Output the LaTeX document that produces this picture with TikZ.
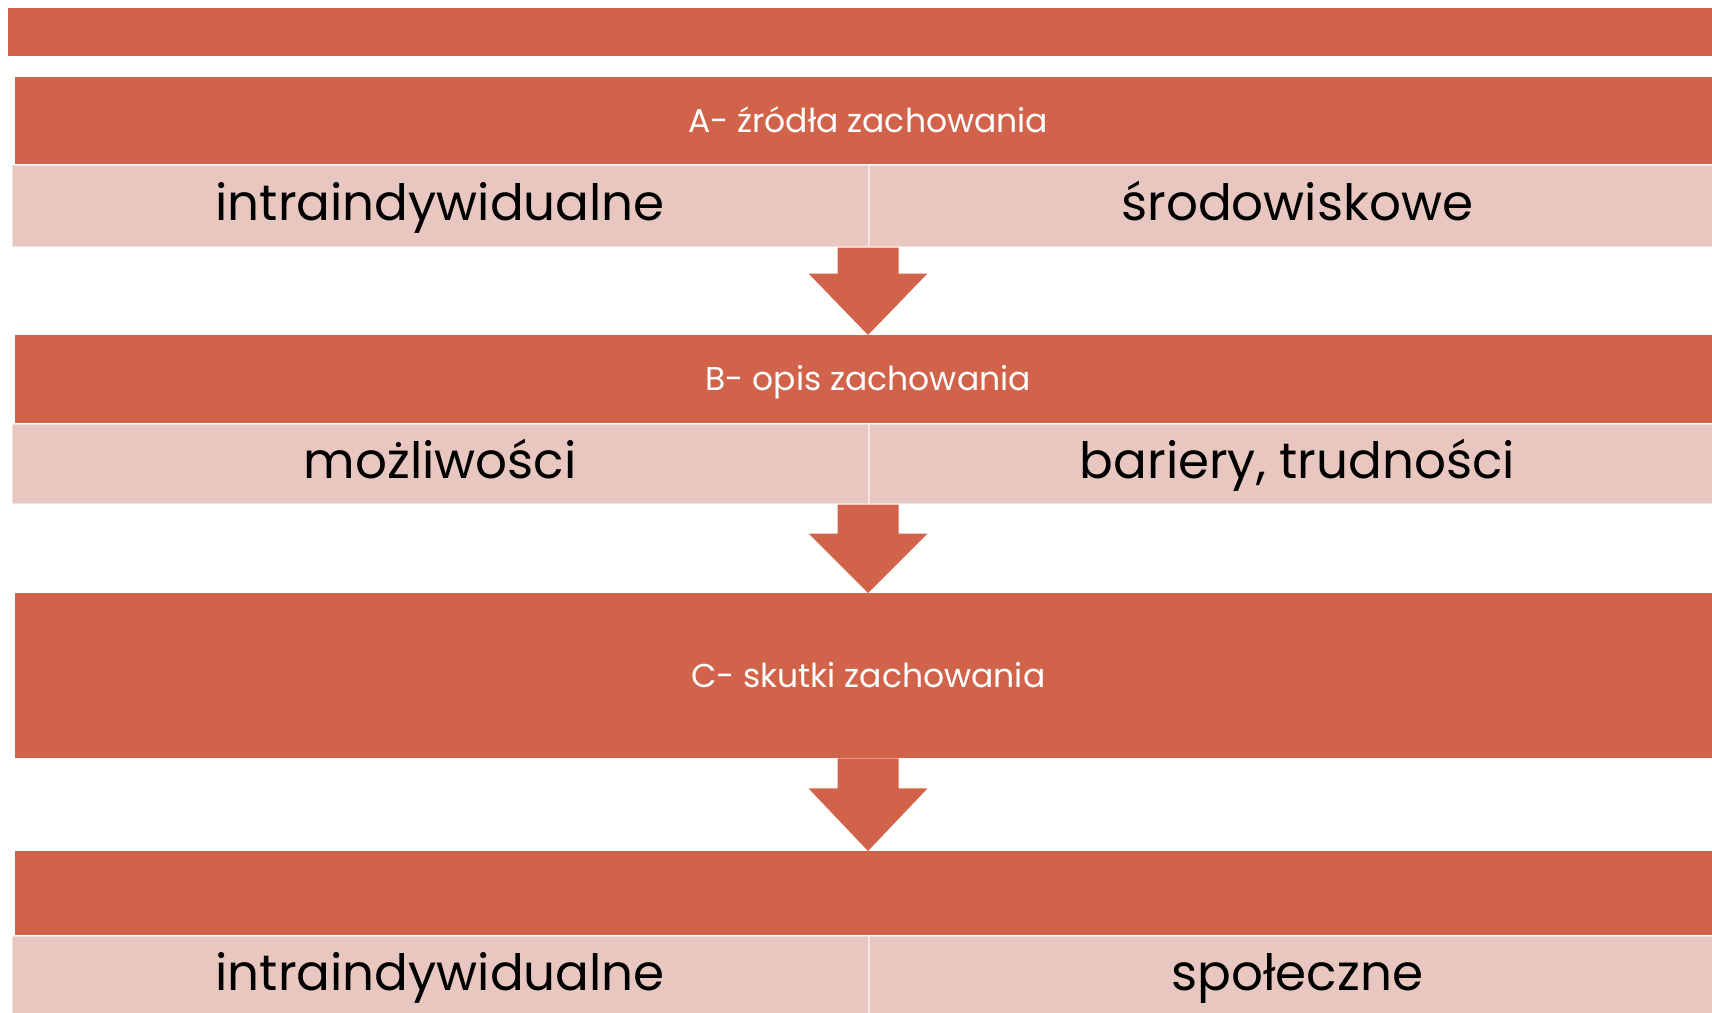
\documentclass[tikz,border=0pt]{standalone}
\usepackage{fontspec}
\setmainfont{Poppins}
\usetikzlibrary{calc}
\definecolor{accent}{HTML}{D1634A}
\definecolor{lightcell}{HTML}{E9C7C1}
\begin{document}
\begin{tikzpicture}[x=1pt,y=-1pt,
 bar/.style={fill=accent,draw=none,inner sep=0pt,anchor=north west},
 hdr/.style={bar,minimum width=1706pt,text=white,font=\fontsize{33}{40}\selectfont,text height=23pt,text depth=0pt},
 cell/.style={fill=lightcell,draw=white,draw opacity=0.45,line width=1.5pt,inner sep=0pt,minimum width=857pt,anchor=north west,font=\fontsize{50}{60}\selectfont,text height=29pt,text depth=0pt},
 flow/.style={fill=accent,draw=none}]
\useasboundingbox (0,0) rectangle (1712,1012);
\fill[white] (0,0) rectangle (1712,1012);
% top bar
\node[bar,minimum width=1710pt,minimum height=48pt] (topbar) at (8,8) {};
% A
\node[hdr,minimum height=87pt] (A) at (15,77) {A- źródła zachowania};
\node[cell,minimum height=82pt] (A1) at (11,164) {intraindywidualne};
\node[cell,minimum height=82pt] (A2) at (868,164) {środowiskowe};
% B
\node[hdr,minimum height=88pt] (B) at (15,335) {B- opis zachowania};
\node[cell,minimum height=80pt] (B1) at (11,423) {możliwości};
\node[cell,minimum height=80pt] (B2) at (868,423) {bariery, trudności};
% C
\node[hdr,minimum height=165pt] (C) at (15,593) {C- skutki zachowania};
% D
\node[hdr,minimum height=84pt] (D) at (15,851) {};
\node[cell,minimum height=80pt] (D1) at (11,935) {intraindywidualne};
\node[cell,minimum height=80pt] (D2) at (868,935) {społeczne};
% arrows
\coordinate (t1) at (A2.south west);
\coordinate (b1) at (B.north -| t1);
\fill[flow] ($(t1)+(-30.5,0)$) -- ($(t1)+(30.5,0)$) -- ($(t1)+(30.5,26)$) -- ($(t1)+(59.5,26)$) -- (b1) -- ($(t1)+(-59.5,26)$) -- ($(t1)+(-30.5,26)$) -- cycle;
\coordinate (t2) at (B2.south west);
\coordinate (b2) at (C.north -| t2);
\fill[flow] ($(t2)+(-30.5,0)$) -- ($(t2)+(30.5,0)$) -- ($(t2)+(30.5,29)$) -- ($(t2)+(59.5,29)$) -- (b2) -- ($(t2)+(-59.5,29)$) -- ($(t2)+(-30.5,29)$) -- cycle;
\coordinate (t3) at (C.south -| t2);
\coordinate (b3) at (D.north -| t2);
\fill[flow] ($(t3)+(-30.5,0)$) -- ($(t3)+(30.5,0)$) -- ($(t3)+(30.5,30)$) -- ($(t3)+(59.5,30)$) -- (b3) -- ($(t3)+(-59.5,30)$) -- ($(t3)+(-30.5,30)$) -- cycle;
\end{tikzpicture}
\end{document}
